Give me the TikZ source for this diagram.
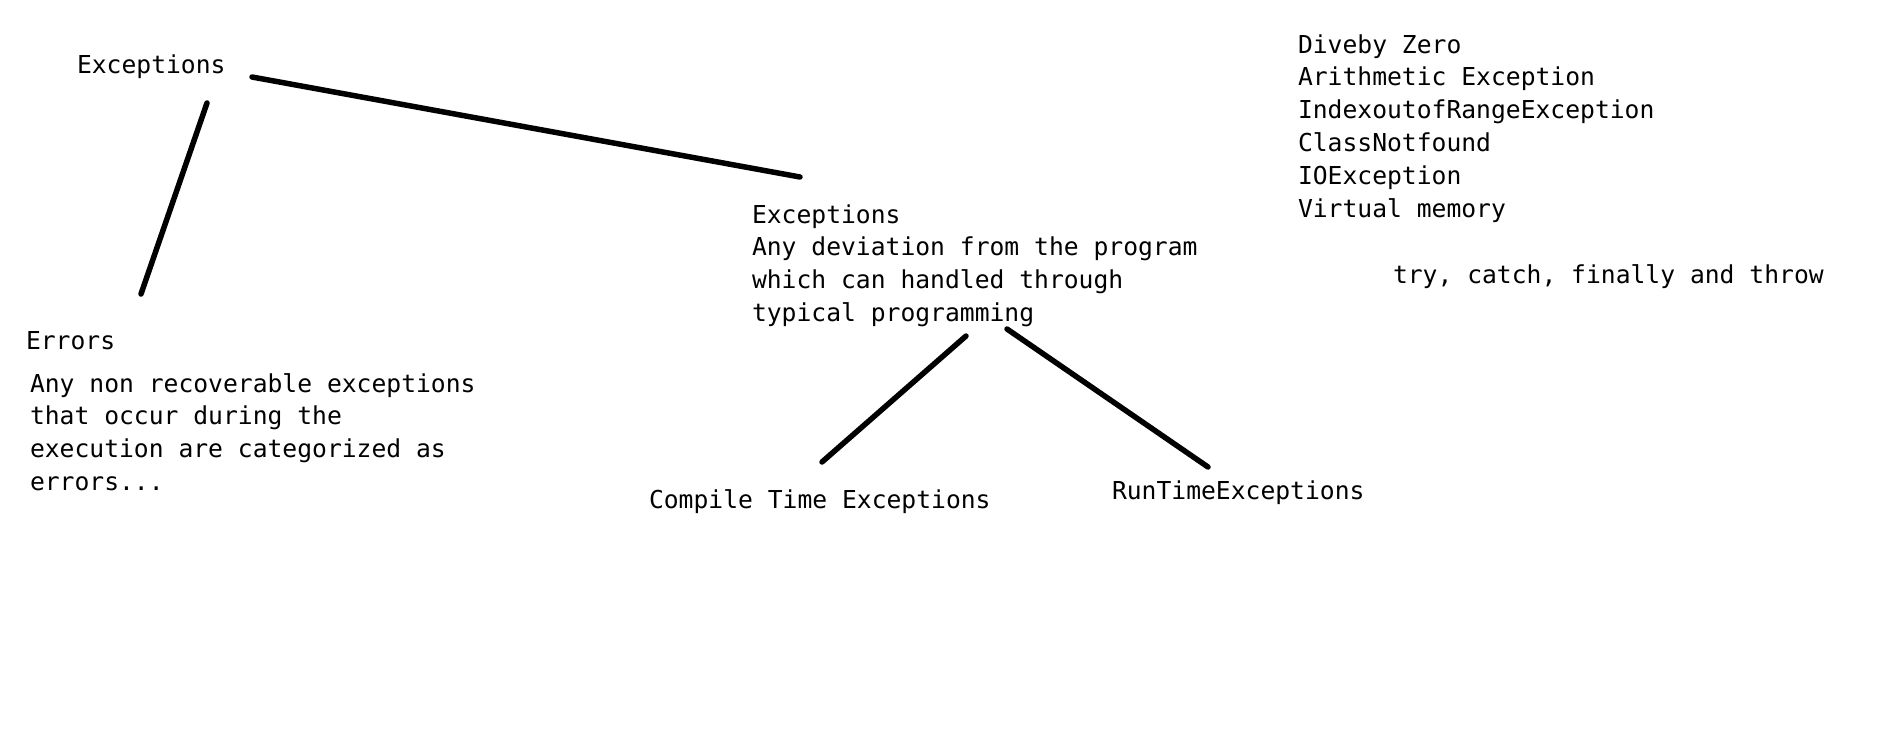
\documentclass[tikz,border=0pt]{standalone}
\usepackage{fontspec}
\newfontfamily\monofam{DejaVu Sans Mono}
\usetikzlibrary{calc}
\tikzset{
  txt/.style={inner sep=0pt, outer sep=0pt, anchor=base west, align=left,
    font=\monofam\fontsize{24.67}{32.8}\selectfont},
  conn/.style={line width=5.5pt, line cap=round, black}
}
\begin{document}
\begin{tikzpicture}[x=1pt,y=-1pt]
\useasboundingbox[fill=white] (0,0) rectangle (1890,745);
% base anchor of multi-line nodes = baseline of last line
\node[txt] (top) at (77,73) {Exceptions};
\node[txt] (errhead) at (26,349) {Errors};
\node[txt] (errbody) at (30,490.4) {Any non recoverable exceptions\\that occur during the\\execution are categorized as\\errors...};
\node[txt] (exc2) at (752,321.4) {Exceptions\\Any deviation from the program\\which can handled through\\typical programming};
\node[txt] (cte) at (649,508) {Compile Time Exceptions};
\node[txt] (rte) at (1112,499) {RunTimeExceptions};
\node[txt] (list) at (1298,217) {Diveby Zero\\Arithmetic Exception\\IndexoutofRangeException\\ClassNotfound\\IOException\\Virtual memory};
\node[txt] (try) at (1393,283) {try, catch, finally and throw};
\draw[conn] ($(top.base east)+(26.5,4)$) -- ($(exc2.base west)+(48,-144.4)$);
\draw[conn] ($(top.base west)+(130,30)$) -- ($(errhead.base west)+(115,-55)$);
\draw[conn] ($(exc2.base west)+(214,14.6)$) -- ($(cte.base west)+(173,-46)$);
\draw[conn] ($(exc2.base west)+(255,7.6)$) -- ($(rte.base west)+(96,-32)$);
\end{tikzpicture}
\end{document}
